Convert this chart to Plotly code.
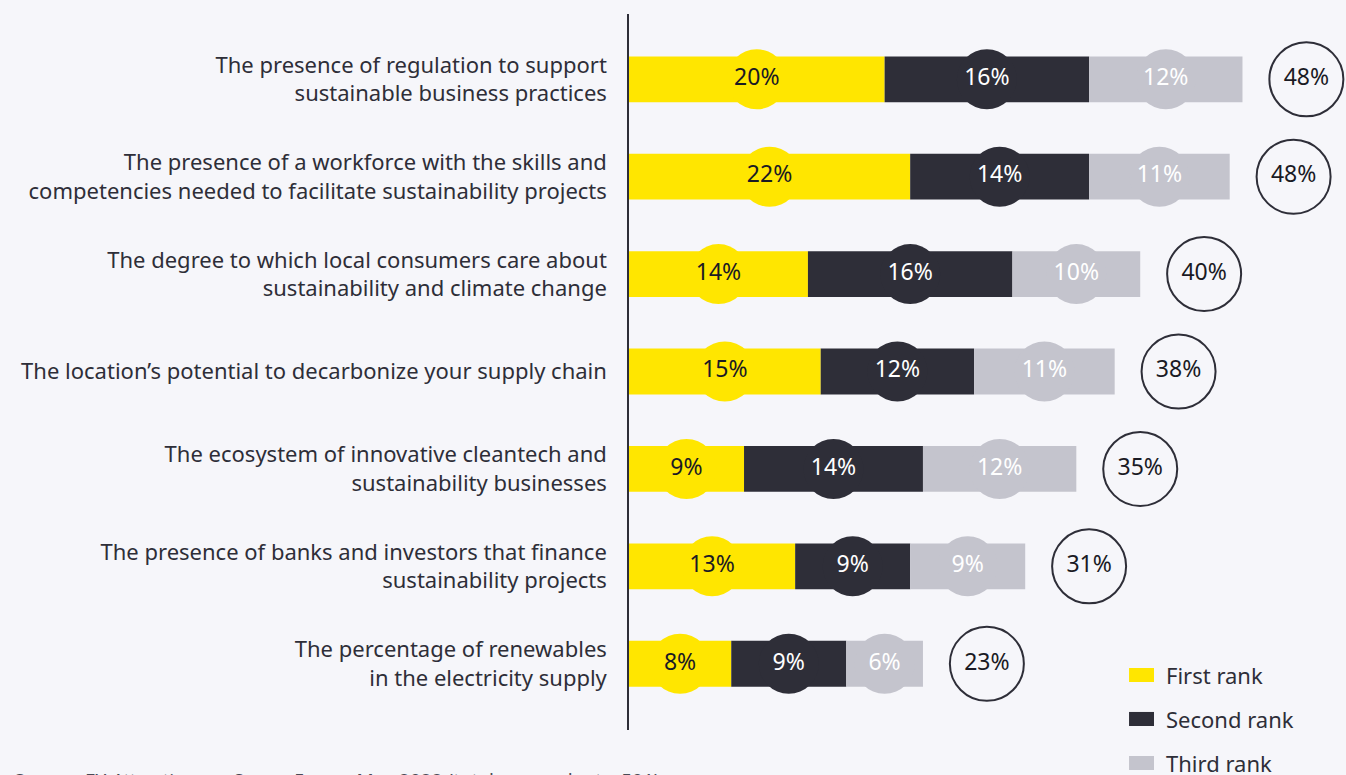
import plotly.graph_objects as go

labels = [
    "The presence of regulation to support<br>sustainable business practices",
    "The presence of a workforce with the skills and<br>competencies needed to facilitate sustainability projects",
    "The degree to which local consumers care about<br>sustainability and climate change",
    "The location\u2019s potential to decarbonize your supply chain",
    "The ecosystem of innovative cleantech and<br>sustainability businesses",
    "The presence of banks and investors that finance<br>sustainability projects",
    "The percentage of renewables<br>in the electricity supply",
]
first_rank = [20, 22, 14, 15, 9, 13, 8]
second_rank = [16, 14, 16, 12, 14, 9, 9]
third_rank = [12, 11, 10, 11, 12, 9, 6]
totals = [48, 48, 40, 38, 35, 31, 23]

BG = "#f6f6fa"
YELLOW = "#ffe600"
DARK = "#2e2e38"
GREY = "#c4c4cd"
FONT = "Noto Sans"

series = [
    ("First rank", first_rank, YELLOW, "#1a1a24"),
    ("Second rank", second_rank, DARK, "#ffffff"),
    ("Third rank", third_rank, GREY, "#ffffff"),
]

fig = go.Figure()

starts = [0] * len(labels)
for name, vals, color, txt in series:
    fig.add_trace(go.Bar(
        y=labels, x=vals, base=starts, orientation="h", name=name,
        marker=dict(color=color, line=dict(width=0)), width=0.47,
        showlegend=False, hoverinfo="skip"))
    centers = [s + v / 2 for s, v in zip(starts, vals)]
    fig.add_trace(go.Scatter(
        y=labels, x=centers, mode="markers+text",
        marker=dict(size=60, color=color, line=dict(width=0)),
        text=[f"{v}%" for v in vals], textposition="middle center",
        textfont=dict(family=FONT, size=23, color=txt),
        showlegend=False, cliponaxis=False, hoverinfo="skip"))
    starts = [s + v for s, v in zip(starts, vals)]

# total circles, placed 5 points past the end of each bar
fig.add_trace(go.Scatter(
    y=labels, x=[s + 5 for s in starts], mode="markers+text",
    marker=dict(size=74, color=BG, line=dict(width=2, color=DARK)),
    text=[f"{t}%" for t in totals], textposition="middle center",
    textfont=dict(family=FONT, size=23, color="#1a1a24"),
    showlegend=False, cliponaxis=False, hoverinfo="skip"))

# custom legend
leg_y = [0.0768, 0.0154, -0.0461]
for (name, vals, color, txt), yy in zip(series, leg_y):
    fig.add_shape(type="rect", xref="paper", yref="paper",
                  x0=0.6974, x1=0.7322, y0=yy - 0.0098, y1=yy + 0.0098,
                  fillcolor=color, line=dict(width=0))
    fig.add_annotation(xref="paper", yref="paper", x=0.7462, y=yy,
                       xanchor="left", yanchor="middle", text=name, showarrow=False,
                       font=dict(family=FONT, size=22, color=DARK))

fig.add_annotation(xref="paper", yref="paper", x=-0.8605, y=-0.0503,
                   xanchor="left", yanchor="top", showarrow=False,
                   text="Source: EY <i>Attractiveness Survey Europe</i> May 2022 (total respondents: 501)",
                   font=dict(family=FONT, size=19, color="#4a4a55"))

fig.update_layout(
    width=1346, height=775,
    margin=dict(l=629, r=0, t=14, b=45),
    paper_bgcolor=BG, plot_bgcolor=BG,
    barmode="overlay",
    xaxis=dict(range=[0, 56.1], visible=False, fixedrange=True),
    yaxis=dict(categoryorder="array", categoryarray=labels, range=[6.68, -0.67],
               showline=True, linecolor=DARK, linewidth=1.5, showgrid=False,
               ticks="", ticklabelstandoff=16, fixedrange=True,
               tickfont=dict(family=FONT, size=22, color=DARK)),
    font=dict(family=FONT),
)

fig.write_html("out.html", config={"displayModeBar": False},
               post_script="document.body.style.margin='0';")
